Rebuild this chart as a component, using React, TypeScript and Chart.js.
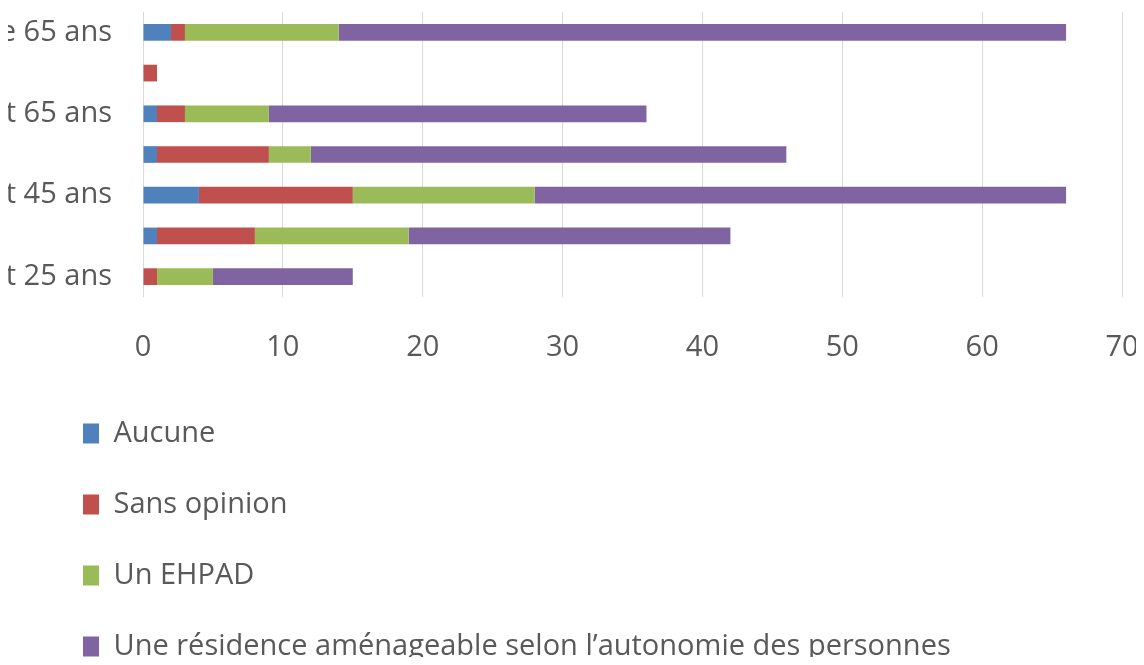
import React, { useEffect, useRef } from "react";
import { Chart, registerables } from "chart.js";

Chart.register(...registerables);

// Categories listed top to bottom (as displayed)
const categories = [
  "Plus de 65 ans",
  "Non renseigné",
  "Entre 55 et 65 ans",
  "Entre 45 et 55 ans",
  "Entre 35 et 45 ans",
  "Entre 25 et 35 ans",
  "Entre 18 et 25 ans",
];

const aucune = [2, 0, 1, 1, 4, 1, 0];
const sansOpinion = [1, 1, 2, 8, 11, 7, 1];
const unEhpad = [11, 0, 6, 3, 13, 11, 4];
const uneResidence = [52, 0, 27, 34, 38, 23, 10];

const seriesNames = [
  "Aucune",
  "Sans opinion",
  "Un EHPAD",
  "Une résidence aménageable selon l’autonomie des personnes",
];
const seriesValues = [aucune, sansOpinion, unEhpad, uneResidence];
const seriesColors = ["#4F81BD", "#C0504D", "#9BBB59", "#8064A2"];

const xTicks = [0, 10, 20, 30, 40, 50, 60, 70];

const FONT = { family: "'Open Sans', sans-serif", size: 29 };
const TEXT_COLOR = "#595959";

export default function App() {
  const mainRef = useRef<HTMLCanvasElement>(null);
  const legendRef = useRef<HTMLCanvasElement>(null);

  useEffect(() => {
    const makeDatasets = (withData: boolean) =>
      seriesNames.map((name, i) => ({
        label: name,
        data: withData ? seriesValues[i] : [],
        backgroundColor: seriesColors[i],
        borderWidth: 0,
        categoryPercentage: 1,
        barPercentage: 0.41,
      }));

    const main = new Chart(mainRef.current as HTMLCanvasElement, {
      type: "bar",
      data: { labels: categories, datasets: makeDatasets(true) as any },
      options: {
        indexAxis: "y",
        responsive: true,
        maintainAspectRatio: false,
        animation: false,
        layout: { padding: { top: 12, right: 78, bottom: 0, left: 0 } },
        plugins: {
          legend: { display: false },
          tooltip: { enabled: false },
        },
        scales: {
          x: {
            stacked: true,
            min: 0,
            max: 70,
            grid: { color: "#D9D9D9", lineWidth: 1, drawTicks: false },
            border: { display: false },
            ticks: { font: FONT, color: TEXT_COLOR, padding: 33 },
            afterBuildTicks: (scale: any) => {
              scale.ticks = xTicks.map((v) => ({ value: v }));
            },
            afterFit: (scale: any) => {
              scale.height = 93;
            },
          },
          y: {
            stacked: true,
            grid: { display: false, drawTicks: false },
            border: { display: false },
            ticks: {
              font: FONT,
              color: TEXT_COLOR,
              padding: 31,
              autoSkip: false,
              callback: (_v: any, i: number) => (i % 2 === 0 ? categories[i] : ""),
            },
            afterFit: (scale: any) => {
              scale.width = 343;
              scale.paddingTop = 0;
              scale.paddingBottom = 0;
            },
          },
        },
      } as any,
    });

    const legend = new Chart(legendRef.current as HTMLCanvasElement, {
      type: "bar",
      data: { labels: categories, datasets: makeDatasets(false) as any },
      options: {
        indexAxis: "y",
        responsive: true,
        maintainAspectRatio: false,
        animation: false,
        layout: { padding: 0 },
        plugins: {
          legend: {
            display: true,
            position: "left",
            align: "start",
            labels: {
              font: FONT,
              color: TEXT_COLOR,
              boxWidth: 16,
              boxHeight: 20,
              padding: 42,
            },
          },
          tooltip: { enabled: false },
        },
        scales: {
          x: { display: false },
          y: { display: false },
        },
      } as any,
    });

    return () => {
      main.destroy();
      legend.destroy();
    };
  }, []);

  return (
    <div
      style={{
        position: "relative",
        width: 1144,
        height: 665,
        overflow: "hidden",
        margin: -8,
        background: "#ffffff",
      }}
    >
      <div style={{ position: "absolute", left: -200, top: 0, width: 1400, height: 390 }}>
        <canvas ref={mainRef} />
      </div>
      <div style={{ position: "absolute", left: 41, top: 377, width: 2400, height: 340 }}>
        <canvas ref={legendRef} />
      </div>
    </div>
  );
}
